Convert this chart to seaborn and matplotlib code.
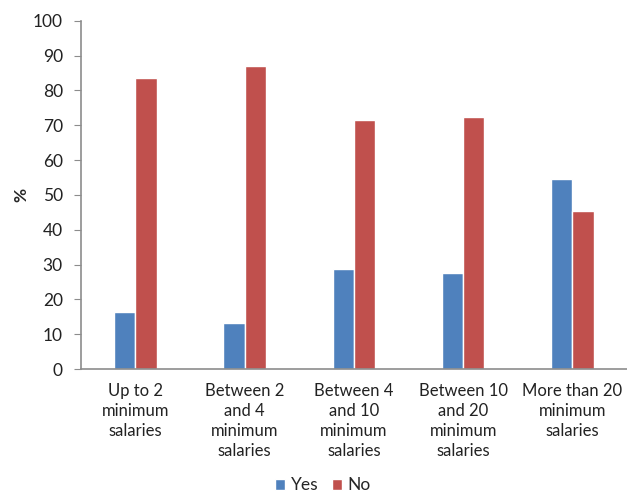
import pandas as pd
import matplotlib.pyplot as plt
import seaborn as sns

categories = ['Up to 2\nminimum\nsalaries', 'Between 2\nand 4\nminimum\nsalaries',
              'Between 4\nand 10\nminimum\nsalaries', 'Between 10\nand 20\nminimum\nsalaries',
              'More than 20\nminimum\nsalaries']
yes = [16.3, 13.1, 28.6, 27.6, 54.5]
no = [83.7, 86.9, 71.4, 72.4, 45.5]

df = pd.DataFrame({
    'cat': categories * 2,
    'val': yes + no,
    'ans': ['Yes'] * len(yes) + ['No'] * len(no),
})

sns.set_style('white')
plt.rcParams['font.family'] = ['Lato', 'DejaVu Sans']

fig = plt.figure(figsize=(6.27, 4.94), dpi=100)
ax = fig.add_axes([0.129, 0.253, 0.871, 0.705])

sns.barplot(data=df, x='cat', y='val', hue='ans', palette=['#4F81BD', '#C0504D'],
            width=0.39, saturation=1, ax=ax, legend=True)

ax.set_xlim(-0.5, 4.5)
ax.set_ylim(0, 100)
ax.set_yticks(range(0, 101, 10))
ax.set_xlabel('')
ax.set_ylabel('%', fontsize=12.5, fontweight='bold')
ax.yaxis.set_label_coords(-0.095, 0.5)

for s in ['top', 'right']:
    ax.spines[s].set_visible(False)
for s in ['left', 'bottom']:
    ax.spines[s].set_color('#8c8c8c')
    ax.spines[s].set_linewidth(1.2)

ax.tick_params(axis='y', direction='out', length=5, color='#8c8c8c', labelsize=12.5,
               labelcolor='#222222', pad=8, left=True)
ax.tick_params(axis='x', length=0, labelsize=12, labelcolor='#222222', pad=10)
for t in ax.get_xticklabels():
    t.set_linespacing(1.3)
    t.set_verticalalignment('top')

ax.get_legend().remove()
handles, labels = ax.get_legend_handles_labels()
fig.legend(handles, labels, loc='lower center', bbox_to_anchor=(0.515, -0.03), ncol=2,
           frameon=False, fontsize=12.5, handlelength=0.6, handleheight=0.6,
           handletextpad=0.3, columnspacing=0.8)

fig.savefig('out.png', dpi=100)
